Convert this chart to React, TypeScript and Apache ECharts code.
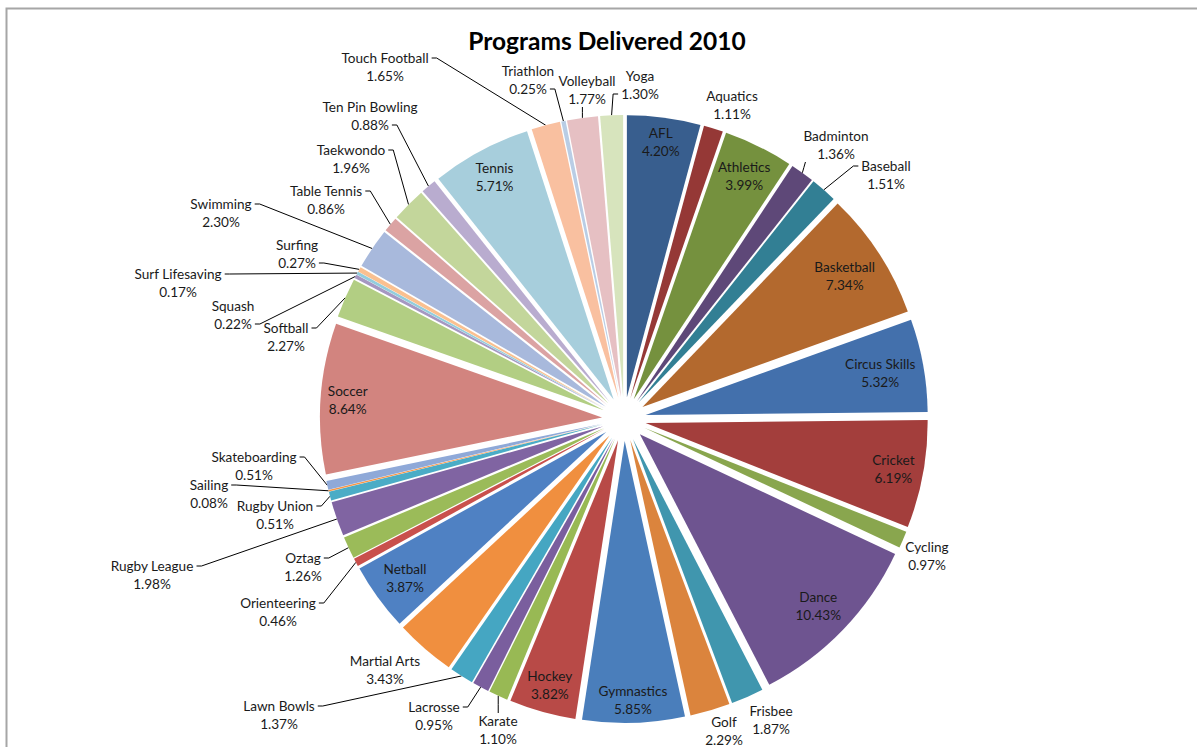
import React, { useEffect, useRef } from "react";
import * as echarts from "echarts";

const categories = [
  "AFL", "Aquatics", "Athletics", "Badminton", "Baseball", "Basketball", "Circus Skills",
  "Cricket", "Cycling", "Dance", "Frisbee", "Golf", "Gymnastics", "Hockey", "Karate",
  "Lacrosse", "Lawn Bowls", "Martial Arts", "Netball", "Orienteering", "Oztag",
  "Rugby League", "Rugby Union", "Sailing", "Skateboarding", "Soccer", "Softball",
  "Squash", "Surf Lifesaving", "Surfing", "Swimming", "Table Tennis", "Taekwondo",
  "Ten Pin Bowling", "Tennis", "Touch Football", "Triathlon", "Volleyball", "Yoga",
];

const percentages = [
  4.20, 1.11, 3.99, 1.36, 1.51, 7.34, 5.32,
  6.19, 0.97, 10.43, 1.87, 2.29, 5.85, 3.82, 1.10,
  0.95, 1.37, 3.43, 3.87, 0.46, 1.26,
  1.98, 0.51, 0.08, 0.51, 8.64, 2.27,
  0.22, 0.17, 0.27, 2.30, 0.86, 1.96,
  0.88, 5.71, 1.65, 0.25, 1.77, 1.30,
];

const sliceColors = [
  "#385E8E", "#953836", "#75913E", "#5E4878", "#327F94", "#B3692E", "#4370AC",
  "#A33E3C", "#89A64E", "#6E5490", "#4096AE", "#DB843D", "#4A7EBB", "#B84A47", "#98B954",
  "#7A5E9E", "#45A6C2", "#F08F3F", "#4F81C3", "#C9504C", "#9BBB59",
  "#8064A2", "#4BACC6", "#F79646", "#8FA9D8", "#D2847F", "#B2CE83",
  "#A597C2", "#93CDDD", "#FAC090", "#A8B9DC", "#DBA3A3", "#C3D69B",
  "#B9ACCF", "#A7CEDC", "#F9C0A0", "#B9CDE5", "#E6C0C3", "#D7E4BD",
];

// slices whose label sits inside the slice (Excel "best fit")
const insideLabeled = [
  "AFL", "Athletics", "Basketball", "Circus Skills", "Cricket", "Dance",
  "Gymnastics", "Hockey", "Netball", "Soccer", "Tennis",
];

// outside labels drawn without a leader line
const noLeader = ["Aquatics", "Cycling", "Frisbee", "Golf", "Martial Arts"];

// outside labels whose leader line meets the percentage row (others meet the name row)
const pctRowLeaders = ["Ten Pin Bowling", "Surfing", "Squash", "Triathlon", "Yoga", "Badminton"];

// layout: centre of each outside label block (page pixels), as placed in the reference
const outsideLabelSpots: Record<string, [number, number]> = {
  "Aquatics": [732, 105],
  "Badminton": [836, 145],
  "Baseball": [886, 175],
  "Cycling": [927, 556],
  "Frisbee": [771, 720],
  "Golf": [724, 731],
  "Karate": [498, 730],
  "Lacrosse": [434, 716],
  "Lawn Bowls": [279, 715],
  "Martial Arts": [385, 670],
  "Orienteering": [278, 612],
  "Oztag": [303, 567],
  "Rugby League": [152, 575],
  "Rugby Union": [275, 515],
  "Sailing": [209, 494],
  "Skateboarding": [254, 466],
  "Softball": [286, 337],
  "Squash": [233, 315],
  "Surf Lifesaving": [178, 283],
  "Surfing": [297, 254],
  "Swimming": [221, 213],
  "Table Tennis": [326, 200],
  "Taekwondo": [351, 159],
  "Ten Pin Bowling": [370, 116],
  "Touch Football": [385, 67],
  "Triathlon": [528, 80],
  "Volleyball": [587, 90],
  "Yoga": [640, 85],
};

const chartTitle = "Programs Delivered 2010";

const FONT = "Lato, 'Open Sans', sans-serif";
const CX = 624;
const CY = 419;
const RADIUS = 282;
const EXPLODE = 22;
const LABEL_SIZE = 13.6;
const LINE_H = 18;

export default function App() {
  const ref = useRef<HTMLDivElement>(null);

  useEffect(() => {
    if (!ref.current) return;
    const chart = echarts.init(ref.current, undefined, { renderer: "svg" });
    const pctText = (v: number) => `${v.toFixed(2)}%`;
    const fmt = (p: any) => `${p.name}\n${pctText(Number(p.value))}`;

    const canvas = document.createElement("canvas");
    const ctx = canvas.getContext("2d")!;
    ctx.font = `${LABEL_SIZE}px ${FONT}`;
    const nameHalf = (i: number) => ctx.measureText(categories[i]).width / 2;
    const pctHalf = (i: number) => ctx.measureText(pctText(percentages[i])).width / 2;
    const blockHalfWidth = (i: number) => Math.max(nameHalf(i), pctHalf(i));

    const total = percentages.reduce((a, b) => a + b, 0);
    const midAngles: number[] = [];
    let acc = 0;
    percentages.forEach((v) => {
      midAngles.push(((acc + v / 2) / total) * Math.PI * 2);
      acc += v;
    });

    const mainData = categories.map((name, i) => ({
      name,
      value: percentages[i],
      selected: true,
      itemStyle: { color: sliceColors[i] },
    }));

    const labelData = categories.map((name, i) => {
      const inside = insideLabeled.includes(name);
      return {
        name,
        value: percentages[i],
        label: { position: inside ? "inside" : "outside" },
        labelLine: { show: !inside && !noLeader.includes(name) },
      };
    });

    const labelLayout = (params: any) => {
      const i = params.dataIndex;
      const name = categories[i];
      const th = midAngles[i];
      const ux = Math.sin(th);
      const uy = -Math.cos(th);
      const hw = blockHalfWidth(i) + 2;
      const hh = LINE_H;
      if (insideLabeled.includes(name)) {
        const rc = RADIUS + EXPLODE - 4 - (Math.abs(ux) * hw + Math.abs(uy) * hh);
        return { x: CX + ux * rc, y: CY + uy * rc, align: "center", verticalAlign: "middle" };
      }
      const spot = outsideLabelSpots[name];
      if (!spot) return {};
      const [lx, ly] = spot;
      const r0 = RADIUS + EXPLODE;
      const p0 = [CX + ux * r0, CY + uy * r0];
      let pts: number[][];
      if (p0[0] > lx - hw && p0[0] < lx + hw) {
        const ax = Math.min(Math.max(p0[0], lx - hw + 4), lx + hw - 4);
        const ay = p0[1] > ly ? ly + hh - 1 : ly - hh + 1;
        pts = [p0, [(p0[0] + ax) / 2, (p0[1] + ay) / 2], [ax, ay]];
      } else {
        const usePct = pctRowLeaders.includes(name);
        const ry = usePct ? ly + LINE_H / 2 : ly - LINE_H / 2;
        const rowHalf = usePct ? pctHalf(i) : nameHalf(i);
        const dir = p0[0] > lx ? 1 : -1;
        const ax = lx + dir * (rowHalf + 3);
        const tx = ax + dir * 5;
        pts = [p0, [tx, ry], [ax, ry]];
      }
      return { x: lx, y: ly, align: "center", verticalAlign: "middle", labelLinePoints: pts };
    };

    chart.setOption({
      animation: false,
      graphic: [
        {
          type: "rect",
          shape: { x: 6.5, y: 8.5, width: 1400, height: 1000 },
          style: { fill: "none", stroke: "#a6a6a6", lineWidth: 2 },
          silent: true,
        },
        {
          type: "text",
          x: 607,
          y: 28,
          style: {
            text: chartTitle,
            fill: "#000",
            font: `bold 24.5px ${FONT}`,
            textAlign: "center",
            textVerticalAlign: "top",
          },
          silent: true,
        },
      ],
      series: [
        {
          type: "pie",
          center: [CX, CY],
          radius: [0, RADIUS],
          startAngle: 90,
          clockwise: true,
          selectedMode: "multiple",
          selectedOffset: EXPLODE,
          emphasis: { disabled: true },
          label: { show: false },
          labelLine: { show: false },
          data: mainData,
        },
        {
          type: "pie",
          center: [CX, CY],
          radius: [RADIUS - 24, RADIUS],
          startAngle: 90,
          clockwise: true,
          silent: true,
          avoidLabelOverlap: false,
          emphasis: { disabled: true },
          itemStyle: { color: "rgba(0,0,0,0)" },
          label: {
            formatter: fmt,
            color: "#1a1a1a",
            fontFamily: FONT,
            fontSize: LABEL_SIZE,
            lineHeight: LINE_H,
            align: "center",
            overflow: "none",
          },
          labelLine: {
            length: 8,
            length2: 8,
            lineStyle: { color: "#000", width: 1 },
          },
          labelLayout,
          data: labelData,
        },
      ],
    });

    return () => chart.dispose();
  }, []);

  return (
    <div style={{ position: "absolute", left: 0, top: 0, width: 1197, height: 747, background: "#fff" }}>
      <div ref={ref} style={{ width: 1197, height: 747 }} />
    </div>
  );
}
